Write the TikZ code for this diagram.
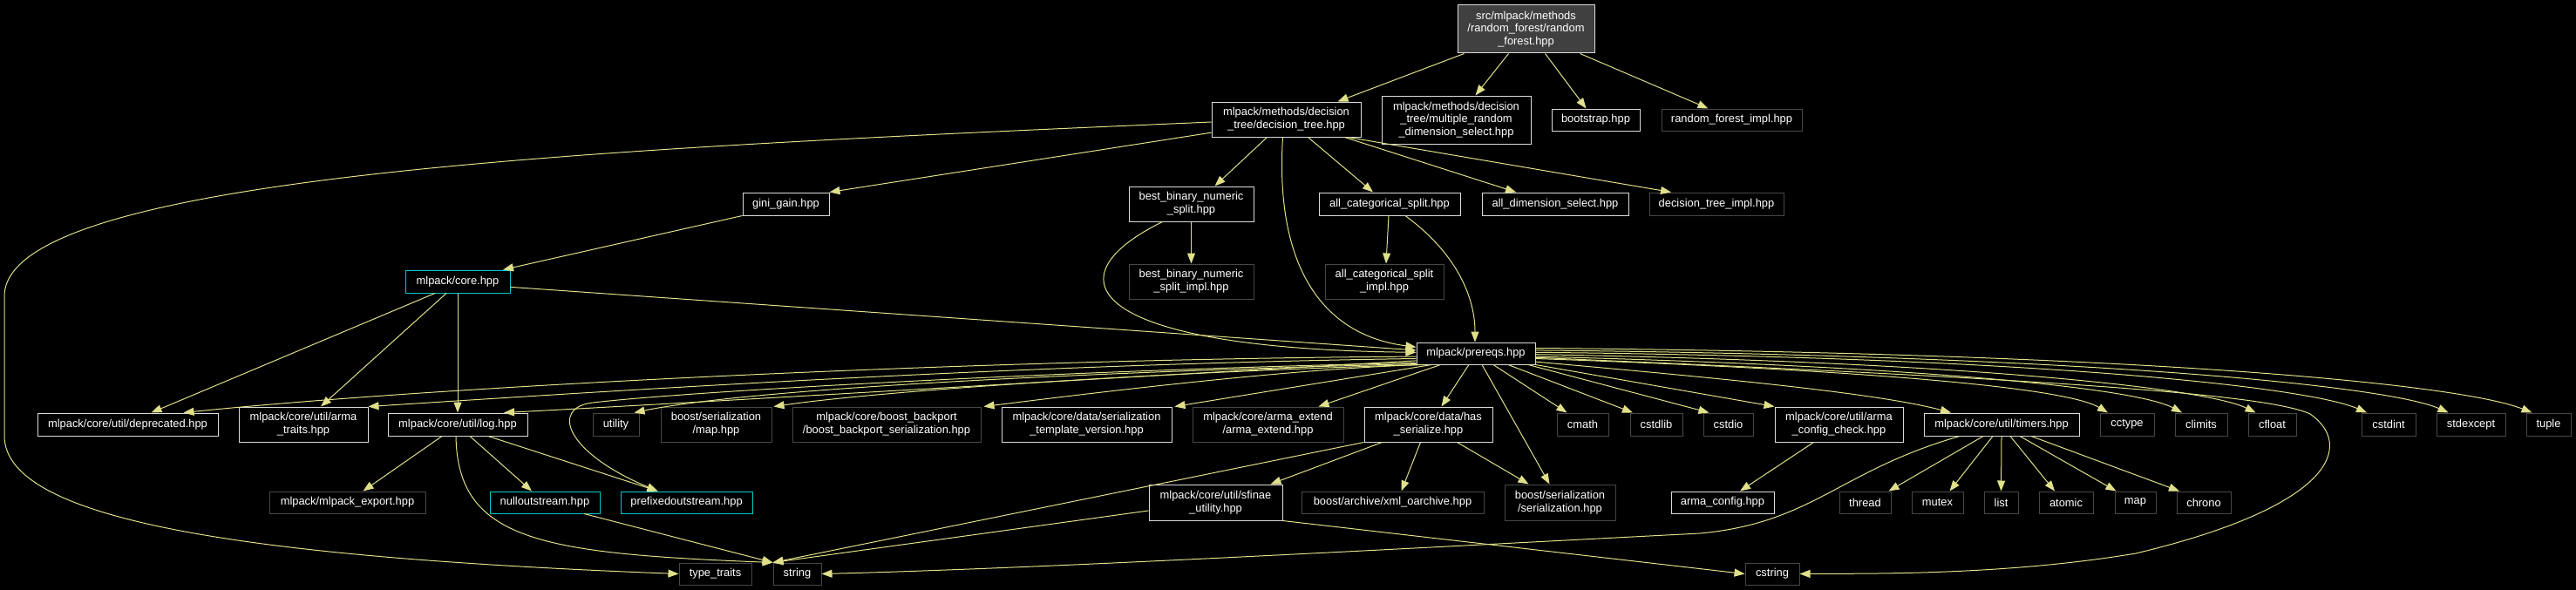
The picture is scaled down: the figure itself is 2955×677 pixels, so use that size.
\documentclass[tikz,border=0pt]{standalone}
\usepackage{fontspec}
\setmainfont{Liberation Sans}
\usetikzlibrary{arrows.meta,calc}
\definecolor{edgecol}{HTML}{E0E08A}
\definecolor{cyanb}{HTML}{00C8C8}
\definecolor{grayb}{HTML}{474747}
\definecolor{whiteb}{HTML}{DADADA}
\definecolor{rootfill}{HTML}{404040}
\newcommand\mkbox[7]{\node[#6, minimum width={(#4)-(#2)}, minimum height={(#5)-(#3)}] (#1) at ({((#2)+(#4))/2},{((#3)+(#5))/2}) {#7};}
\tikzset{
  nb/.style={draw, rectangle, inner sep=0pt, align=center, text=white, fill=black, line width=1pt, font=\fontsize{12.9}{14.7}\selectfont},
  lnk/.style={nb, draw=whiteb},
  ext/.style={nb, draw=grayb},
  cy/.style={nb, draw=cyanb},
  rootst/.style={nb, draw=whiteb, fill=rootfill},
  e/.style={draw=edgecol, line width=1pt, -{Triangle[length=12pt,width=9pt,fill=edgecol]}},
}
\begin{document}
\begin{tikzpicture}[x=1pt,y=-1pt]
\useasboundingbox (0,0) rectangle (2955,677);
\fill[black] (0,0) rectangle (2955,677);
% nodes
\mkbox{root}{1672}{6}{1829}{61}{rootst}{src/mlpack/methods\\/random\_forest/random\\\_forest.hpp}
\mkbox{dt}{1390}{117}{1561}{157}{lnk}{mlpack/methods/decision\\\_tree/decision\_tree.hpp}
\mkbox{mrds}{1585}{110}{1756}{165}{lnk}{mlpack/methods/decision\\\_tree/multiple\_random\\\_dimension\_select.hpp}
\mkbox{boot}{1780}{125}{1881}{150}{lnk}{bootstrap.hpp}
\mkbox{rfimpl}{1906}{125}{2067}{150}{ext}{random\_forest\_impl.hpp}
\mkbox{gini}{852}{221}{951}{247}{lnk}{gini\_gain.hpp}
\mkbox{bbns}{1295}{214}{1438}{254}{lnk}{best\_binary\_numeric\\\_split.hpp}
\mkbox{acs}{1513}{221}{1675}{247}{lnk}{all\_categorical\_split.hpp}
\mkbox{ads}{1700}{221}{1868}{247}{lnk}{all\_dimension\_select.hpp}
\mkbox{dtimpl}{1892}{221}{2046}{247}{ext}{decision\_tree\_impl.hpp}
\mkbox{core}{465}{310}{585}{336}{cy}{mlpack/core.hpp}
\mkbox{bbnsi}{1295}{303}{1438}{343}{ext}{best\_binary\_numeric\\\_split\_impl.hpp}
\mkbox{acsi}{1520}{303}{1656}{343}{ext}{all\_categorical\_split\\\_impl.hpp}
\mkbox{prereqs}{1625}{393}{1761}{418}{lnk}{mlpack/prereqs.hpp}
\mkbox{deprecated}{43}{474}{250}{500}{lnk}{mlpack/core/util/deprecated.hpp}
\mkbox{armatraits}{274}{467}{422}{507}{lnk}{mlpack/core/util/arma\\\_traits.hpp}
\mkbox{log}{445}{474}{605}{500}{lnk}{mlpack/core/util/log.hpp}
\mkbox{utility}{680}{474}{733}{500}{ext}{utility}
\mkbox{smap}{758}{467}{885}{507}{ext}{boost/serialization\\/map.hpp}
\mkbox{backport}{909}{467}{1125}{507}{ext}{mlpack/core/boost\_backport\\/boost\_backport\_serialization.hpp}
\mkbox{stv}{1149}{467}{1344}{507}{lnk}{mlpack/core/data/serialization\\\_template\_version.hpp}
\mkbox{armaext}{1368}{467}{1541}{507}{ext}{mlpack/core/arma\_extend\\/arma\_extend.hpp}
\mkbox{hasser}{1565}{467}{1712}{507}{lnk}{mlpack/core/data/has\\\_serialize.hpp}
\mkbox{cmath}{1786}{474}{1845}{500}{ext}{cmath}
\mkbox{cstdlib}{1870}{474}{1930}{500}{ext}{cstdlib}
\mkbox{cstdio}{1954}{474}{2011}{500}{ext}{cstdio}
\mkbox{acc}{2036}{467}{2183}{507}{lnk}{mlpack/core/util/arma\\\_config\_check.hpp}
\mkbox{timers}{2207}{474}{2385}{500}{lnk}{mlpack/core/util/timers.hpp}
\mkbox{cctype}{2409}{474}{2471}{500}{ext}{cctype}
\mkbox{climits}{2495}{474}{2555}{500}{ext}{climits}
\mkbox{cfloat}{2579}{474}{2634}{500}{ext}{cfloat}
\mkbox{cstdint}{2709}{474}{2771}{500}{ext}{cstdint}
\mkbox{stdexcept}{2795}{474}{2874}{500}{ext}{stdexcept}
\mkbox{tuple}{2898}{474}{2949}{500}{ext}{tuple}
\mkbox{export}{309}{564}{488}{589}{ext}{mlpack/mlpack\_export.hpp}
\mkbox{null}{562}{564}{688}{589}{cy}{nulloutstream.hpp}
\mkbox{prefixed}{712}{564}{863}{589}{cy}{prefixedoutstream.hpp}
\mkbox{sfinae}{1318}{556}{1471}{597}{lnk}{mlpack/core/util/sfinae\\\_utility.hpp}
\mkbox{xml}{1493}{564}{1702}{589}{ext}{boost/archive/xml\_oarchive.hpp}
\mkbox{sser}{1726}{556}{1853}{597}{ext}{boost/serialization\\/serialization.hpp}
\mkbox{armaconfig}{1917}{564}{2035}{589}{lnk}{arma\_config.hpp}
\mkbox{thread}{2110}{564}{2169}{589}{ext}{thread}
\mkbox{mutex}{2193}{564}{2252}{589}{ext}{mutex}
\mkbox{list}{2276}{564}{2315}{589}{ext}{list}
\mkbox{atomic}{2339}{564}{2401}{589}{ext}{atomic}
\mkbox{map}{2426}{564}{2473}{589}{ext}{map}
\mkbox{chrono}{2497}{564}{2559}{589}{ext}{chrono}
\mkbox{typetraits}{779}{646}{862}{671}{ext}{type\_traits}
\mkbox{string}{887}{646}{942}{671}{ext}{string}
\mkbox{cstring}{2002}{646}{2064}{671}{ext}{cstring}
% root edges
\draw[e] ([xshift=-71]root.south) -- ([xshift=59]dt.north);
\draw[e] ([xshift=-20]root.south) -- ([xshift=22]mrds.north);
\draw[e] ([xshift=22]root.south) -- ([xshift=-11]boot.north);
\draw[e] ([xshift=62]root.south) -- ([xshift=-27]rfimpl.north);
% decision tree edges
\draw[e] ([xshift=-22]dt.south) -- ([xshift=27]bbns.north);
\draw[e] ([xshift=25]dt.south) -- ([xshift=-19]acs.north);
\draw[e] ([xshift=67]dt.south) -- ([xshift=-45]ads.north);
\draw[e] ([xshift=71]dt.south) -- ([xshift=-52]dtimpl.north);
\draw[e] (dt.190) -- (gini.north east);
\draw[e] (dt.182) .. controls (700,170) and (5,200) .. (5,340) -- (5,500) .. controls (5,600) and (300,640) .. (typetraits.west);
\draw[e] ([xshift=-4]dt.south) .. controls (1462,310) and (1520,385) .. (prereqs.174);
% gini, core
\draw[e] (gini.south west) -- ([xshift=52]core.north);
\draw[e] ([xshift=-26]core.south) -- ([xshift=27]deprecated.north);
\draw[e] ([xshift=-13]core.south) -- ([xshift=20]armatraits.north);
\draw[e] (core.south) -- (log.north);
\draw[e] (core.354) -- (prereqs.177);
% splits
\draw[e] (bbns.south) -- (bbnsi.north);
\draw[e] ([xshift=-33]bbns.south) .. controls (1200,320) and (1250,400) .. (prereqs.179);
\draw[e] ([xshift=-1]acs.south) -- ([xshift=2]acsi.north);
\draw[e] ([xshift=18]acs.south) .. controls (1670,290) and (1692,340) .. ([xshift=-1]prereqs.north);
% prereqs to the left
\draw[e] (prereqs.183) .. controls (1125,412) and (507,443) .. ([xshift=-40]deprecated.north east);
\draw[e] (prereqs.185) .. controls (1150,418) and (650,452) .. (armatraits.north east);
\draw[e] (prereqs.187) .. controls (1300,432) and (800,462) .. ([xshift=53]log.north);
\draw[e] (prereqs.189) .. controls (1250,424) and (800,448) .. (680,462) .. controls (630,468) and (650,520) .. ([xshift=-33]prefixed.north);
\draw[e] (prereqs.190) .. controls (1200,428) and (850,448) .. ([xshift=-6]utility.north east);
\draw[e] ([xshift=4]prereqs.south west) .. controls (1300,428) and (1000,450) .. ([xshift=2]smap.north east);
\draw[e] ([xshift=10]prereqs.south west) .. controls (1500,422) and (1300,445) .. ([xshift=3]backport.north east);
\draw[e] ([xshift=18]prereqs.south west) -- ([xshift=3]stv.north east);
\draw[e] ([xshift=28]prereqs.south west) -- ([xshift=-29]armaext.north east);
% prereqs downwards
\draw[e] ([xshift=-8]prereqs.south) -- ([xshift=15]hasser.north);
\draw[e] ([xshift=7]prereqs.south) -- ([xshift=-12]sser.north);
\draw[e] ([xshift=20]prereqs.south) -- ([xshift=-18]cmath.north);
\draw[e] ([xshift=37]prereqs.south) -- ([xshift=-27]cstdlib.north);
\draw[e] ([xshift=60]prereqs.south) -- ([xshift=-22]cstdio.north);
% prereqs to the right
\draw[e] (prereqs.south east) -- (acc.north west);
\draw[e] (prereqs.352) .. controls (1950,432) and (2150,450) .. ([xshift=-58]timers.north);
\draw[e] (prereqs.355) .. controls (2150,425) and (2370,445) .. ([xshift=-22]cctype.north);
\draw[e] (prereqs.357) .. controls (2200,420) and (2450,445) .. ([xshift=-22]climits.north);
\draw[e] (prereqs.359) .. controls (2250,415) and (2530,445) .. ([xshift=-19]cfloat.north);
\draw[e] (prereqs.1) .. controls (2350,410) and (2650,445) .. ([xshift=-25]cstdint.north);
\draw[e] (prereqs.3) .. controls (2400,408) and (2740,443) .. ([xshift=-26]stdexcept.north);
\draw[e] (prereqs.5) .. controls (2450,405) and (2820,440) .. ([xshift=-19]tuple.north);
\draw[e] (prereqs.356) .. controls (2350,435) and (2600,452) .. (2650,475) .. controls (2700,510) and (2680,580) .. (2450,635) .. controls (2300,660) and (2150,658) .. (cstring.east);
% timers
\draw[e] ([xshift=-21]timers.south) -- ([xshift=27]thread.north);
\draw[e] ([xshift=-10]timers.south) -- ([xshift=14]mutex.north);
\draw[e] (timers.south) -- (list.north);
\draw[e] ([xshift=10]timers.south) -- ([xshift=-13]atomic.north);
\draw[e] ([xshift=21]timers.south) -- ([xshift=-22]map.north);
\draw[e] ([xshift=34]timers.south) -- ([xshift=-28]chrono.north);
\draw[e] ([xshift=-48]timers.south) .. controls (2110,540) and (2080,600) .. (1950,612) .. controls (1600,630) and (1200,652) .. (string.east);
% others
\draw[e] ([xshift=-29]acc.south) -- ([xshift=20]armaconfig.north);
\draw[e] ([xshift=-9]hasser.south) -- ([xshift=10]xml.north);
\draw[e] ([xshift=33]hasser.south) -- ([xshift=-36]sser.north);
\draw[e] ([xshift=-53]hasser.south) -- ([xshift=-14]sfinae.north east);
\draw[e] (hasser.south west) -- (string.north west);
\draw[e] (sfinae.187) -- (string.north west);
\draw[e] (sfinae.south east) -- (cstring.west);
\draw[e] ([xshift=-18]log.south) -- ([xshift=18]export.north);
\draw[e] ([xshift=14]log.south) -- ([xshift=-15]null.north);
\draw[e] ([xshift=35]log.south) -- ([xshift=-33]prefixed.north);
\draw[e] ([xshift=-2]log.south) .. controls (525,620) and (620,635) .. (string.north west);
\draw[e] ([xshift=45]null.south) -- (string.north west);
\end{tikzpicture}
\end{document}
